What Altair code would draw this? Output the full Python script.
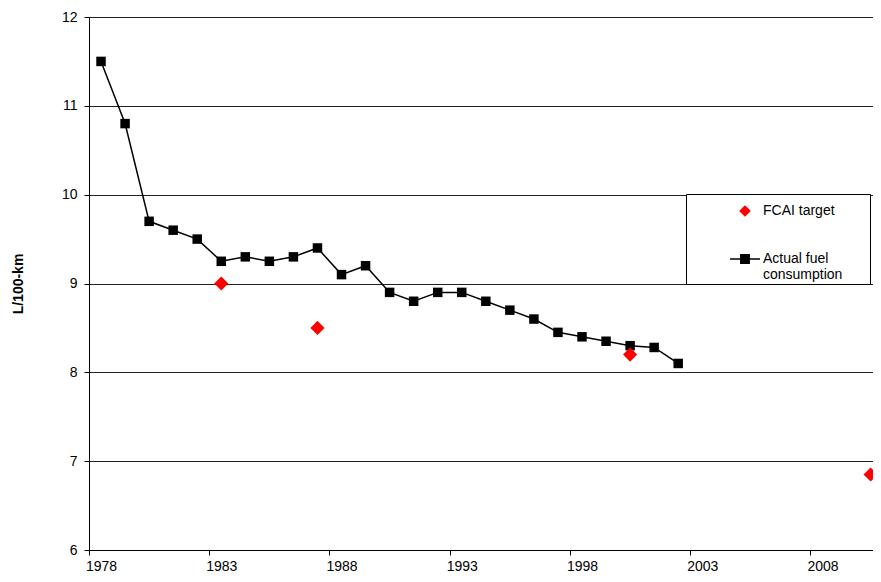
import altair as alt
import pandas as pd

# ---- data ----
years = list(range(1978, 2003))
actual = [11.5, 10.8, 9.7, 9.6, 9.5, 9.25, 9.3, 9.25, 9.3, 9.4, 9.1, 9.2, 8.9,
          8.8, 8.9, 8.9, 8.8, 8.7, 8.6, 8.45, 8.4, 8.35, 8.3, 8.28, 8.1]
target_years = [1983, 1987, 2000, 2010]
targets = [9.0, 8.5, 8.2, 6.85]
series_names = ["FCAI target", "Actual fuel consumption"]
x_label_years = [1978, 1983, 1988, 1993, 1998, 2003, 2008]
y_ticks = [6, 7, 8, 9, 10, 11, 12]

actual_df = pd.DataFrame({"year": years, "value": actual})
target_df = pd.DataFrame({"year": target_years, "value": targets})
# legend-only rows, placed outside the visible domain (clipped)
legend_df = pd.DataFrame({"year": [2100, 2100], "value": [9.0, 9.0], "series": series_names})

FONT = "Liberation Sans"
INK = "#000000"

x_scale = alt.Scale(domain=[1977.5, 2010.1], nice=False, zero=False)
y_scale = alt.Scale(domain=[6, 12], nice=False, zero=False)

x_axis = alt.Axis(
    values=[y - 0.5 for y in x_label_years],
    labelExpr="format(datum.value + 0.5, 'd')",
    labelOffset=12, grid=False, domainColor=INK, domainWidth=1,
    tickColor=INK, tickSize=5, labelFont=FONT, labelFontSize=14,
    labelColor=INK, labelPadding=4, labelFlush=False, labelOverlap=False,
    labelBound=False,
)
y_axis = alt.Axis(
    values=y_ticks, format="d", grid=True, gridColor="#222222", gridWidth=1,
    gridOpacity=1, domainColor=INK, domainWidth=1, tickColor=INK, tickSize=5,
    labelFont=FONT, labelFontSize=14, labelColor=INK, labelPadding=7,
    titleFont=FONT, titleFontSize=14, titleFontWeight="bold", titleColor=INK,
    titlePadding=36,
)

X = alt.X("year:Q", scale=x_scale, axis=x_axis, title=None)
Y = alt.Y("value:Q", scale=y_scale, axis=y_axis, title="L/100-km")

line = alt.Chart(actual_df).mark_line(color=INK, strokeWidth=1.5, clip=True).encode(x=X, y=Y)
squares = alt.Chart(actual_df).mark_square(color=INK, size=90, opacity=1, clip=True).encode(x=X, y=Y)
diamonds = alt.Chart(target_df).mark_point(
    shape="diamond", filled=True, color="#ff0000", size=200, opacity=1, clip=True
).encode(x=X, y=Y)

# legend symbols (custom paths); the trailing zero-length sub-path widens the legend box
diamond_path = "M0,-0.39L0.39,0L0,0.39L-0.39,0Z M8.2,0L8.2,0"
line_square_path = "M-1,-0.05H1V0.05H-1Z M-0.33,-0.33H0.33V0.33H-0.33Z"

leg = alt.Legend(
    title=None, orient="none", legendX=597, legendY=177, padding=2,
    strokeColor=INK, fillColor="white", symbolSize=900, symbolOffset=42,
    symbolStrokeWidth=0, labelOffset=3, labelFont=FONT, labelFontSize=14,
    labelColor=INK, labelBaseline="middle", rowPadding=26, labelLimit=300,
    labelExpr="datum.label == 'Actual fuel consumption' ? ['Actual fuel', 'consumption'] : datum.label",
)

legend_layer = alt.Chart(legend_df).mark_point(filled=True, opacity=1, clip=True).encode(
    x=X, y=Y,
    color=alt.Color("series:N", scale=alt.Scale(domain=series_names, range=["#ff0000", INK]), legend=leg),
    shape=alt.Shape("series:N", scale=alt.Scale(domain=series_names, range=[diamond_path, line_square_path]), legend=leg),
)

chart = alt.layer(line, squares, diamonds, legend_layer).properties(
    width=784, height=533,
    padding={"left": 3, "top": 2, "right": 0, "bottom": 0},
).configure_view(strokeWidth=0, stroke="transparent").configure(background="white")

chart.save("out.html", embed_options={"renderer": "svg", "actions": False})
